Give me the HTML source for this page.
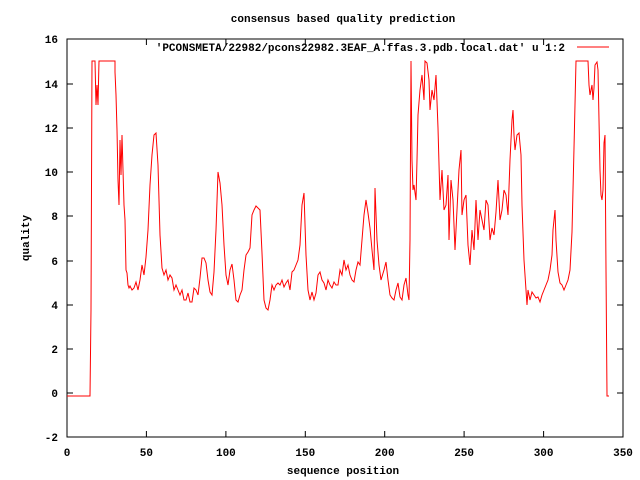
<!DOCTYPE html>
<html><head><meta charset="utf-8"><style>body{margin:0;background:#fff}svg{display:block}text{font-family:"Liberation Mono",monospace;font-size:11px;font-weight:bold;fill:#000}</style></head><body>
<svg width="640" height="480" xmlns="http://www.w3.org/2000/svg">
<rect x="67" y="39" width="556" height="398" fill="none" stroke="#000" stroke-width="1"/>
<g stroke="#000" stroke-width="1">
<path d="M67 437h6M623 437h-6M67 393h6M623 393h-6M67 349h6M623 349h-6M67 305h6M623 305h-6M67 261h6M623 261h-6M67 216h6M623 216h-6M67 172h6M623 172h-6M67 128h6M623 128h-6M67 84h6M623 84h-6"/>
<path d="M146.4 437v-6M146.4 39v6M225.9 437v-6M225.9 39v6M305.3 437v-6M305.3 39v6M384.7 437v-6M384.7 39v6M464.1 437v-6M464.1 39v6M543.6 437v-6M543.6 39v6"/>
</g>
<g text-anchor="end">
<text x="58" y="441">-2</text><text x="58" y="397">0</text><text x="58" y="353">2</text><text x="58" y="309">4</text><text x="58" y="265">6</text><text x="58" y="220">8</text><text x="58" y="176">10</text><text x="58" y="132">12</text><text x="58" y="88">14</text><text x="58" y="43">16</text>
</g>
<g text-anchor="middle">
<text x="67" y="456">0</text><text x="146.4" y="456">50</text><text x="225.9" y="456">100</text><text x="305.3" y="456">150</text><text x="384.7" y="456">200</text><text x="464.1" y="456">250</text><text x="543.6" y="456">300</text><text x="623" y="456">350</text>
<text x="343" y="22">consensus based quality prediction</text>
<text x="343" y="474">sequence position</text>
<text transform="translate(29 238) rotate(-90)">quality</text>
</g>
<text x="565" y="51" text-anchor="end">'PCONSMETA/22982/pcons22982.3EAF_A.ffas.3.pdb.local.dat' u 1:2</text>
<line x1="577" y1="47" x2="609" y2="47" stroke="#f00" stroke-width="1"/>
<polyline fill="none" stroke="#f00" stroke-width="1" points="67,396 90,396 91,310 92,61 95,61 96,105 97,85 98,105 99,61 115,61 115,72 116,95 117,130 118,180 119,205 120,140 121,175 122,135 123,170 124,205 125,220 126,270 127,273 128,285 129,288 130,286 132,290 134,288 136,282 138,290 140,280 142,265 144,275 146,257 148,230 150,185 152,155 154,135 156,133 158,165 160,235 162,268 164,275 166,270 168,280 170,275 172,278 174,290 176,285 178,290 180,295 182,290 184,300 186,300 188,293 190,302 192,302 194,288 196,290 198,295 200,278 202,258 204,258 206,263 208,280 210,292 212,295 214,272 216,230 218,172 220,183 222,205 224,245 226,275 228,285 230,270 232,264 234,280 236,300 238,302 240,295 242,290 244,270 246,255 248,252 250,248 252,215 254,210 256,206 258,208 260,210 262,253 264,300 266,308 268,310 270,300 272,285 274,290 276,285 278,283 280,285 282,280 284,287 286,283 288,280 290,290 292,272 294,270 296,265 298,260 300,245 302,205 304,193 306,255 308,290 310,300 312,292 314,300 316,293 318,275 320,272 322,280 324,283 326,290 328,280 330,285 332,288 334,282 336,285 338,285 340,270 342,275 344,260 346,270 348,265 350,275 352,280 354,282 356,270 358,262 360,265 362,240 364,215 366,200 368,213 370,228 372,250 374,270 375,188 377,240 379,265 381,280 384,270 386,262 388,280 390,295 392,298 394,300 396,290 398,283 400,297 402,300 404,285 406,278 408,295 409,300 410,240 411,61 412,160 413,190 414,185 416,200 417,160 418,115 420,90 422,75 424,100 425,61 427,63 429,80 430,110 432,90 434,100 436,75 438,128 440,200 442,170 444,210 446,205 448,175 449,240 451,180 453,200 455,250 457,210 459,170 461,150 462,215 464,200 466,195 468,245 470,265 472,230 474,250 476,200 478,240 480,210 482,220 484,230 486,200 488,205 490,240 492,228 494,235 496,212 498,180 500,220 502,210 504,190 506,195 508,215 510,160 512,120 513,110 514,135 515,150 517,135 519,133 521,155 522,205 524,260 526,290 527,305 528,290 530,300 532,292 534,295 536,298 538,297 540,302 542,295 544,290 546,285 548,280 550,270 552,255 553,230 555,210 556,240 558,272 560,283 562,285 564,290 566,285 568,280 570,270 572,232 574,148 576,61 588,61 589,85 590,95 592,85 593,100 594,88 595,65 597,62 598,70 599,120 600,170 601,195 602,200 603,190 604,143 605,135 606,270 607,396 609,396"/>
</svg>
</body></html>
